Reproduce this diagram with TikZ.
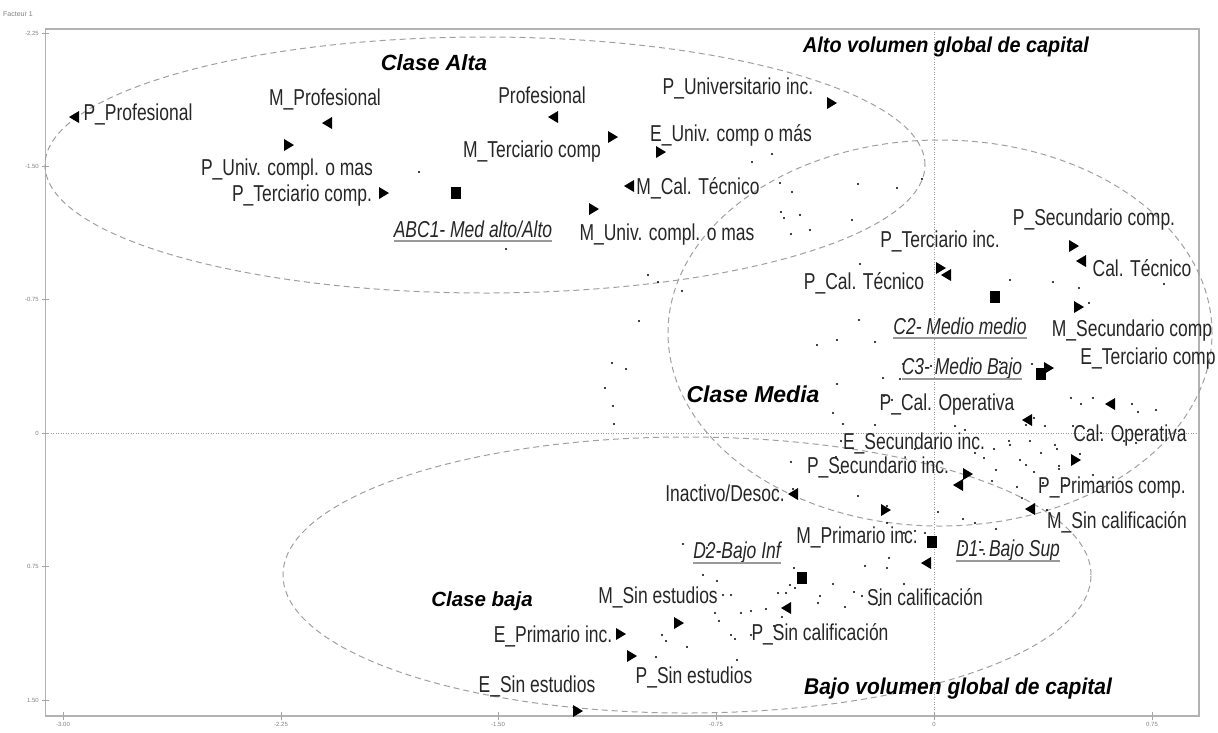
\documentclass[tikz,border=0pt]{standalone}
\usepackage{fontspec}
\setmainfont{Liberation Sans}
\newfontfamily\labfam[FakeStretch=0.76]{Liberation Sans}
\newfontfamily\clsfam{Liberation Sans}
\newfontfamily\clsnarrow[FakeStretch=0.92]{Liberation Sans}
\newcommand\labfont{\labfam\fontsize{23}{26}\selectfont}
\newcommand\ulabfont{\labfam\itshape\fontsize{23}{26}\selectfont}
\newcommand\clsfont{\clsfam\bfseries\itshape\fontsize{22}{25}\selectfont}
\newcommand\volfont{\clsnarrow\bfseries\itshape\fontsize{21.5}{25}\selectfont}
\newcommand\tickfont{\fontsize{6}{7}\selectfont}
\newcommand\triL[1]{\fill[black] #1 ++(-5,0) -- ++(10,-6) -- ++(0,12) -- cycle;}
\newcommand\triR[1]{\fill[black] #1 ++(5,0) -- ++(-10,-6) -- ++(0,12) -- cycle;}
\newcommand\sqr[1]{\fill[black] #1 ++(-5,-6) rectangle ++(10,12);}
\newcommand\dt[1]{\fill[black] #1 circle (1.2pt);}
\tikzset{
 lbl/.style={font=\labfont, text=black!85, inner sep=0pt},
 ulbl/.style={font=\ulabfont, text=black!85, inner sep=0pt},
 cls/.style={font=\clsfont, text=black, inner sep=0pt},
 vol/.style={font=\volfont, text=black, inner sep=0pt},
 ulline/.style={draw=gray!80, line width=2pt},
 frameline/.style={draw=gray!60, line width=1.5pt},
 ell/.style={draw=gray!75, line width=1pt, dash pattern=on 6pt off 4pt},
 zeroaxis/.style={draw=gray!80, line width=0.8pt, dash pattern=on 1pt off 1.5pt},
 tickl/.style={font=\tickfont, text=gray, anchor=east, inner sep=0pt},
 tickb/.style={font=\tickfont, text=gray, anchor=north, inner sep=0pt},
 tickmk/.style={draw=gray!70, line width=0.6pt}
}
\begin{document}
\begin{tikzpicture}[x=1pt,y=-1pt]
\useasboundingbox (0,0) rectangle (1218,732);
% frame and axes
\draw[zeroaxis] (45.5,433) -- (1199,433);
\draw[zeroaxis] (934,29) -- (934,716);
\draw[frameline] (45.5,29) rectangle (1199,716);
\node[font=\fontsize{7}{8}\selectfont, text=gray, inner sep=0pt] (ftitle) at (18,14) {Facteur 1};
\foreach \yy/\tl [count=\i] in {33/-2.25,166/-1.50,299/-0.75,433/0,566/0.75,700/1.50}{
  \draw[tickmk] (42,\yy) -- (49,\yy);
  \node[tickl] (ly\i) at (39,\yy) {\tl};
}
\foreach \xx/\tl [count=\i] in {63/-3.00,281/-2.25,498/-1.50,716/-0.75,934/0,1152/0.75}{
  \draw[tickmk] (\xx,712) -- (\xx,720);
  \node[tickb] (lx\i) at (\xx,722) {\tl};
}
% ellipses
\draw[ell] (485,165) ellipse [x radius=440pt, y radius=128pt];
\draw[ell] (940,333) ellipse [x radius=272pt, y radius=193pt];
\draw[ell] (687,575) ellipse [x radius=404pt, y radius=138pt];
% dots
\foreach \p in {(419,172),(506,249),(752,162),(772,154),(780,183),(792,192),(858,184),(897,188),(922,179),(781,212),(784,218),(800,215),(852,220),(791,234),(810,230),(648,275),(658,282),(682,291),(860,264),(639,321),(859,320),(817,345),(837,340),(875,342),(612,363),(626,369),(605,388),(613,406),(883,378),(900,379),(837,384),(833,413),(843,424),(875,425),
(1010,280),(1053,282),(1079,288),(1089,303),(1164,284),(903,364),(931,366),(972,364),(1000,362),(1032,364),(884,396),(892,400),(1071,398),(1081,404),(1093,398),(1132,404),(1138,412),(1156,410),(1034,418),(1045,426),(1073,426),(1101,433),(1124,441),(1136,443),(1026,425),(1030,441),(1041,453),(1057,449),(1010,445),(1026,465),(1059,469),(1065,485),(994,449),(992,481),(955,426),(965,430),(975,453),(915,449),(836,457),(840,473),(793,489),(614,424),
(841,441),(791,462),(858,496),(887,506),(904,533),(915,531),(925,533),(887,523),(938,512),(963,519),(975,523),(996,529),(980,542),(963,546),(984,554),(1017,487),(1022,498),(1034,472),(1043,483),(1047,510),(1059,466),(1055,445),(1080,454),(1093,475),(996,470),(984,458),(1009,441),(1020,460),(820,596),(845,607),(862,596),(879,605),(904,584),(782,617),(774,626),(715,613),(719,621),(795,588),(703,575),(833,584),(854,592),(707,548),(683,544),(717,581),(723,595),(731,595),(741,613),(751,611),(766,609),(778,593),(786,593),(790,585),(794,568),(818,603),(865,566),(887,568),(889,558),(731,635),(735,639),(751,635),(662,635),(666,641),(687,647),(656,657),(737,660),(671,682)}{\dt{\p}}
% markers
\triL{(74,117)} \triL{(327,123)} \triR{(289,145)} \triL{(553,117)}
\triR{(613,137)} \triR{(661,152)} \triR{(832,103)} \triR{(384,193)}
\sqr{(456,193)} \triL{(629,186)} \triR{(594,209)}
\triR{(1074,246)} \triL{(1081,261)} \triR{(941,268)} \triL{(946,275)}
\sqr{(995,297)} \triR{(1079,307)} \sqr{(1041,374)} \triR{(1049,368)}
\triL{(1027,420)} \triL{(1110,404)} \triR{(1076,460)}
\triR{(968,474)} \triL{(958,485)} \triL{(793,494)} \triR{(886,510)}
\triL{(1030,509)} \sqr{(932,542)} \triL{(926,563)} \sqr{(802,578)}
\triR{(679,623)} \triL{(786,608)} \triR{(621,634)} \triR{(632,656)}
\triR{(578,711)}
% class titles
\node[cls] (calta) at (434,63) {Clase Alta};
\node[vol] (alto) at (946,47) {Alto volumen global de capital};
\node[cls, font=\clsfam\bfseries\itshape\fontsize{23}{26}\selectfont] (cmedia) at (753,394) {Clase Media};
\node[cls, font=\clsfam\bfseries\itshape\fontsize{20.5}{24}\selectfont] (cbaja) at (482,601) {Clase baja};
\node[vol, font=\clsnarrow\bfseries\itshape\fontsize{22.8}{26}\selectfont] (bajo) at (958,689) {Bajo volumen global de capital};
% labels
\node[lbl] (l1) at (138,114) {P\_Profesional};
\node[lbl] (l2) at (325,99) {M\_Profesional};
\node[lbl] (l3) at (542,95) {Profesional};
\node[lbl] (l4) at (738,88) {P\_Universitario inc.};
\node[lbl] (l5) at (287,170) {P\_Univ. compl. o mas};
\node[lbl] (l6) at (532,152) {M\_Terciario comp};
\node[lbl] (l7) at (731,135) {E\_Univ. comp o más};
\node[lbl] (l8) at (302,196) {P\_Terciario comp.};
\node[lbl] (l9) at (698,188) {M\_Cal. Técnico};
\node[lbl] (l10) at (667,235) {M\_Univ. compl. o mas};
\node[lbl] (l11) at (1094,220) {P\_Secundario comp.};
\node[lbl] (l12) at (1142,268) {Cal. Técnico};
\node[lbl] (l13) at (940,241) {P\_Terciario inc.};
\node[lbl] (l14) at (864,283) {P\_Cal. Técnico};
\node[lbl] (l15) at (1132,331) {M\_Secundario comp};
\node[lbl] (l16) at (1148,359) {E\_Terciario comp};
\node[lbl] (l17) at (947,405) {P\_Cal. Operativa};
\node[lbl] (l18) at (1130,436) {Cal. Operativa};
\node[lbl] (l19) at (914,443) {E\_Secundario inc.};
\node[lbl] (l20) at (878,467) {P\_Secundario inc.};
\node[lbl] (l21) at (1112,488) {P\_Primarios comp.};
\node[lbl] (l22) at (725,493) {Inactivo/Desoc.};
\node[lbl] (l23) at (857,537) {M\_Primario inc.};
\node[lbl] (l24) at (1117,522) {M\_Sin calificación};
\node[lbl] (l25) at (925,597) {Sin calificación};
\node[lbl] (l26) at (658,597) {M\_Sin estudios};
\node[lbl] (l27) at (820,634) {P\_Sin calificación};
\node[lbl] (l28) at (553,636) {E\_Primario inc.};
\node[lbl] (l29) at (694,677) {P\_Sin estudios};
\node[lbl] (l30) at (537,686) {E\_Sin estudios};
% underlined cluster labels
\node[ulbl] (abc) at (473,229) {ABC1- Med alto/Alto};
\node[ulbl] (c2) at (960,326) {C2- Medio medio};
\node[ulbl] (c3) at (962,369) {C3- Medio Bajo};
\node[ulbl] (d1) at (1008,551) {D1- Bajo Sup};
\node[ulbl] (d2) at (737,553) {D2-Bajo Inf};
\foreach \n in {abc,c2,c3,d1,d2}{
  \draw[ulline] ([yshift=-4pt]\n.base west) -- ([yshift=-4pt]\n.base east);
}
\end{tikzpicture}
\end{document}
